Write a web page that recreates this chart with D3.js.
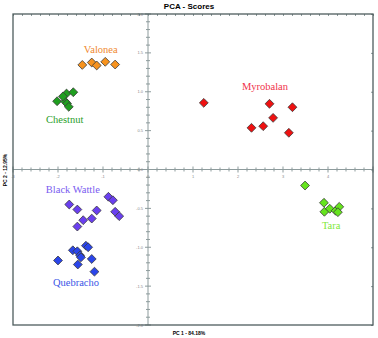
<!DOCTYPE html>
<html>
<head>
<meta charset="utf-8">
<script src="https://cdn.jsdelivr.net/npm/d3@7"></script>
<style>
  body { margin: 0; background: #fff; }
  svg { display: block; }
</style>
</head>
<body>
<div id="chart"></div>
<script>
// chart data (PC1, PC2 scores)
var groups = ["Valonea", "Chestnut", "Myrobalan", "Tara", "Black Wattle", "Quebracho"];

var valoneaX = [-1.46, -1.25, -1.14, -0.95, -0.73];
var valoneaY = [1.345, 1.376, 1.338, 1.385, 1.35];

var chestnutX = [-2.02, -1.81, -1.66, -1.84, -1.8, -1.76, -1.89];
var chestnutY = [0.878, 0.977, 0.994, 0.874, 0.849, 0.806, 0.94];

var myrobalanX = [1.24, 2.7, 3.21, 2.78, 2.56, 2.3, 3.13];
var myrobalanY = [0.857, 0.845, 0.801, 0.664, 0.557, 0.536, 0.472];

var taraX = [3.49, 3.91, 3.92, 4.04, 4.17, 4.25, 4.22];
var taraY = [-0.206, -0.428, -0.544, -0.505, -0.531, -0.48, -0.549];

var wattleX = [-1.75, -1.57, -0.88, -0.78, -1.14, -1.25, -1.44, -1.57, -0.73, -0.64];
var wattleY = [-0.45, -0.515, -0.351, -0.395, -0.527, -0.631, -0.652, -0.734, -0.544, -0.6];

var quebrachoX = [-2.0, -1.67, -1.57, -1.51, -1.49, -1.56, -1.38, -1.33, -1.25, -1.19];
var quebrachoY = [-1.17, -1.039, -1.052, -1.104, -1.13, -1.222, -0.98, -1.0, -1.151, -1.314];

var xTicks = [-3, -2, -1, 0, 1, 2, 3, 4];
var yTicks = [-2, -1.5, -1, -0.5, 0, 0.5, 1, 1.5, 2];

// canvas
var svgWidth = 378;
var svgHeight = 338;
var plot = { left: 13, right: 373, top: 14, bottom: 325 };

var svg = d3.select("#chart")
  .append("svg")
  .attr("width", svgWidth)
  .attr("height", svgHeight);

var xScale = d3.scaleLinear().domain([-3, 5]).range([plot.left, plot.right]);
var yScale = d3.scaleLinear().domain([-2, 2]).range([plot.bottom, plot.top]);

var frameColor = "#4f5d5e";
var axisColor = "#8d9b9c";

// frame top ticks
svg.append("g")
  .attr("transform", `translate(0, ${plot.top})`)
  .call(d3.axisBottom(xScale).tickValues(d3.range(-3, 5.001, 0.2)).tickSize(2).tickFormat(""))
  .call(g => g.select(".domain").remove())
  .selectAll("line").attr("stroke", axisColor);

// frame right ticks
svg.append("g")
  .attr("transform", `translate(${plot.right}, 0)`)
  .call(d3.axisLeft(yScale).tickValues(yTicks).tickSize(2).tickFormat(""))
  .call(g => g.select(".domain").remove())
  .selectAll("line").attr("stroke", axisColor);

// center axes
var minorX = d3.range(-3, 5.001, 0.2);
var minorY = d3.range(-2, 2.001, 0.1);

var hAxis = svg.append("g").attr("class", "h-axis");
hAxis.append("line")
  .attr("x1", plot.left).attr("x2", plot.right)
  .attr("y1", yScale(0)).attr("y2", yScale(0))
  .attr("stroke", axisColor);
hAxis.selectAll("line.tick")
  .data(minorX)
  .enter()
  .append("line")
  .attr("class", "tick")
  .attr("x1", d => xScale(d)).attr("x2", d => xScale(d))
  .attr("y1", d => yScale(0) - (Math.abs(d - Math.round(d)) < 1e-6 ? 3 : 2))
  .attr("y2", d => yScale(0) + (Math.abs(d - Math.round(d)) < 1e-6 ? 3 : 2))
  .attr("stroke", axisColor);

var vAxis = svg.append("g").attr("class", "v-axis");
vAxis.append("line")
  .attr("x1", xScale(0)).attr("x2", xScale(0))
  .attr("y1", plot.top).attr("y2", plot.bottom)
  .attr("stroke", axisColor);
vAxis.selectAll("line.tick")
  .data(minorY)
  .enter()
  .append("line")
  .attr("class", "tick")
  .attr("y1", d => yScale(d)).attr("y2", d => yScale(d))
  .attr("x1", d => xScale(0) - (Math.abs(d * 2 - Math.round(d * 2)) < 1e-6 ? 3 : 2))
  .attr("x2", d => xScale(0) + (Math.abs(d * 2 - Math.round(d * 2)) < 1e-6 ? 3 : 2))
  .attr("stroke", axisColor);

// tick labels (tiny)
svg.append("g").selectAll("text")
  .data(xTicks)
  .enter()
  .append("text")
  .attr("x", d => xScale(d))
  .attr("y", yScale(0) + 8)
  .style("font-family", "Arial, Liberation Sans, sans-serif")
  .style("font-size", "4px")
  .style("text-anchor", "middle")
  .style("fill", "#8a8a8a")
  .text(d => d);

svg.append("g").selectAll("text")
  .data(yTicks)
  .enter()
  .append("text")
  .attr("x", xScale(0) - 5)
  .attr("y", d => yScale(d) + 1.5)
  .style("font-family", "Arial, Liberation Sans, sans-serif")
  .style("font-size", "4px")
  .style("text-anchor", "end")
  .style("fill", "#8a8a8a")
  .text(d => d.toFixed(1));

// frame
svg.append("rect")
  .attr("x", plot.left)
  .attr("y", plot.top)
  .attr("width", plot.right - plot.left)
  .attr("height", plot.bottom - plot.top)
  .attr("fill", "none")
  .attr("stroke", frameColor)
  .attr("stroke-width", 1.3);

// series
var series = [
  { name: groups[0], xs: valoneaX, ys: valoneaY, fill: "#f7931e", label: "#f0892f", lx: -1.05, ly: 1.5 },
  { name: groups[1], xs: chestnutX, ys: chestnutY, fill: "#1f9e1f", label: "#2a9e2a", lx: -1.85, ly: 0.6 },
  { name: groups[2], xs: myrobalanX, ys: myrobalanY, fill: "#ee1111", label: "#f0334a", lx: 2.6, ly: 1.02 },
  { name: groups[3], xs: taraX, ys: taraY, fill: "#66e41e", label: "#7fe83c", lx: 4.07, ly: -0.77 },
  { name: groups[4], xs: wattleX, ys: wattleY, fill: "#6a3ff0", label: "#7a5cf0", lx: -1.67, ly: -0.3 },
  { name: groups[5], xs: quebrachoX, ys: quebrachoY, fill: "#2a45ea", label: "#3a55e6", lx: -1.6, ly: -1.5 }
];

var diamond = d3.symbol().type(d3.symbolDiamond2).size(50);

series.forEach(function (s) {
  var pts = s.xs.map((x, i) => ({ x: x, y: s.ys[i] }));
  svg.append("g").selectAll("path")
    .data(pts)
    .enter()
    .append("path")
    .attr("d", diamond)
    .attr("transform", d => `translate(${xScale(d.x)}, ${yScale(d.y)})`)
    .attr("fill", s.fill)
    .attr("stroke", "#3a3a3a")
    .attr("stroke-width", 0.8);

  svg.append("text")
    .attr("x", xScale(s.lx))
    .attr("y", yScale(s.ly))
    .style("font-family", "Liberation Serif, Times New Roman, serif")
    .style("font-size", "10.5px")
    .style("text-anchor", "middle")
    .style("fill", s.label)
    .text(s.name);
});

// title and axis titles
svg.append("text")
  .attr("x", 189)
  .attr("y", 9)
  .style("font-family", "Liberation Sans, Arial, sans-serif")
  .style("font-size", "8px")
  .style("font-weight", "bold")
  .style("text-anchor", "middle")
  .text("PCA - Scores");

svg.append("text")
  .attr("x", 189)
  .attr("y", 335)
  .style("font-family", "Liberation Sans, Arial, sans-serif")
  .style("font-size", "5px")
  .style("font-weight", "bold")
  .style("text-anchor", "middle")
  .text("PC 1 - 84.18%");

svg.append("text")
  .attr("transform", `translate(7, 170) rotate(-90)`)
  .style("font-family", "Liberation Sans, Arial, sans-serif")
  .style("font-size", "5px")
  .style("font-weight", "bold")
  .style("text-anchor", "middle")
  .text("PC 2 - 12.95%");
</script>
</body>
</html>
